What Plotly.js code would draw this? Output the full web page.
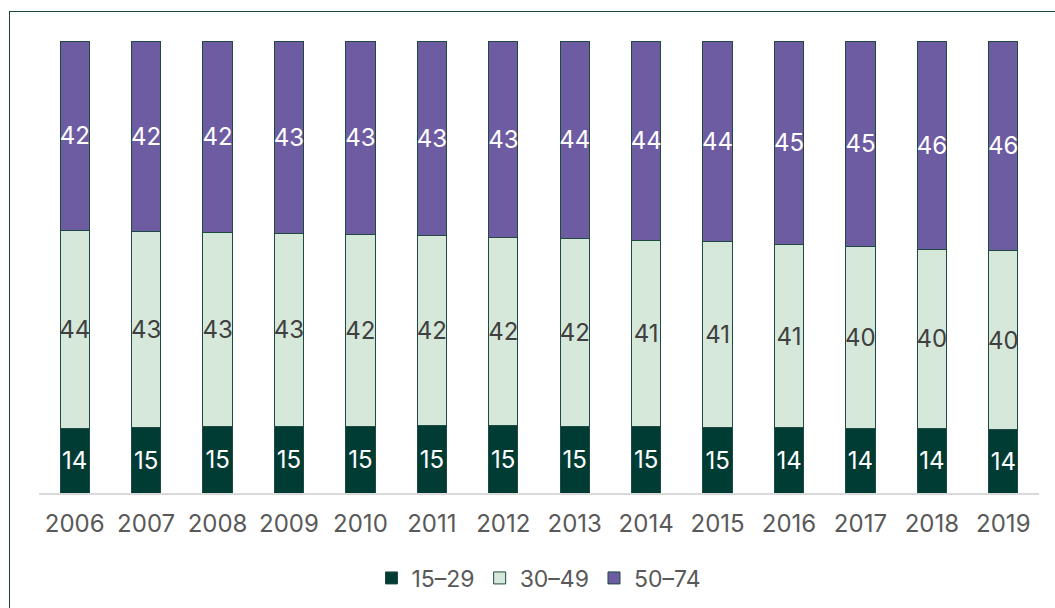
<!DOCTYPE html>
<html>
<head>
<meta charset="utf-8">
<script src="https://cdn.plot.ly/plotly-3.0.1.min.js"></script>
<style>
  html, body { margin: 0; padding: 0; background: #ffffff; }
  #chart { width: 1055px; height: 608px; position: absolute; left: 0; top: 0; }
  #frame { position: absolute; left: 9px; top: 11px; width: 1100px; height: 700px;
           border-left: 1.5px solid #1a443c; border-top: 1.5px solid #1a443c; pointer-events: none; }
</style>
</head>
<body>
<div id="chart"></div>
<div id="frame"></div>
<script>
const years = ['2006','2007','2008','2009','2010','2011','2012','2013','2014','2015','2016','2017','2018','2019'];
const age15_29 = [14.2, 14.6, 14.7, 14.8, 14.8, 15.0, 14.9, 14.7, 14.7, 14.6, 14.4, 14.3, 14.3, 14.0];
const age30_49 = [43.9, 43.3, 43.0, 42.6, 42.3, 41.9, 41.7, 41.6, 41.2, 41.0, 40.6, 40.3, 39.6, 39.7];
const age50_74 = [41.9, 42.1, 42.3, 42.6, 42.9, 43.1, 43.4, 43.7, 44.1, 44.4, 45.0, 45.4, 46.1, 46.3];
const seriesNames = ['15–29', '30–49', '50–74'];

const FONT = 'Inter, Roboto, "Noto Sans", sans-serif';
const outline = '#1f4a43';

function barTrace(name, values, fill, textColor) {
  return {
    type: 'bar',
    name: name,
    x: years,
    y: values,
    marker: { color: fill, line: { color: outline, width: 1 } },
    texttemplate: '%{y:.0f}',
    textposition: 'inside',
    insidetextanchor: 'middle',
    textangle: 0,
    textfont: { family: FONT, size: 24, color: textColor },
    hoverinfo: 'x+y+name'
  };
}

const data = [
  barTrace(seriesNames[0], age15_29, '#003c34', '#ffffff'),
  barTrace(seriesNames[1], age30_49, '#d5e8da', '#404040'),
  barTrace(seriesNames[2], age50_74, '#6e5ca3', '#ffffff')
];

const layout = {
  width: 1055,
  height: 608,
  barmode: 'stack',
  bargap: 0.59,
  paper_bgcolor: 'rgba(0,0,0,0)',
  plot_bgcolor: 'rgba(0,0,0,0)',
  margin: { l: 39, r: 16, t: 41, b: 115, autoexpand: false },
  font: { family: FONT, color: '#595959' },
  uniformtext: { mode: 'show', minsize: 24 },
  xaxis: {
    type: 'category',
    showline: true,
    linecolor: '#d9d9d9',
    linewidth: 2,
    showgrid: false,
    zeroline: false,
    ticks: '',
    ticklabelstandoff: 8,
    tickfont: { family: FONT, size: 24, color: '#595959' },
    fixedrange: true
  },
  yaxis: {
    visible: false,
    range: [0, 100],
    showgrid: false,
    zeroline: false,
    fixedrange: true
  },
  showlegend: true,
  legend: {
    orientation: 'h',
    x: 0.5,
    xanchor: 'center',
    y: -0.188,
    yanchor: 'middle',
    traceorder: 'normal',
    font: { family: FONT, size: 23, color: '#595959' },
    bgcolor: 'rgba(0,0,0,0)'
  }
};

Plotly.newPlot('chart', data, layout, { displayModeBar: false, staticPlot: true });
</script>
</body>
</html>
